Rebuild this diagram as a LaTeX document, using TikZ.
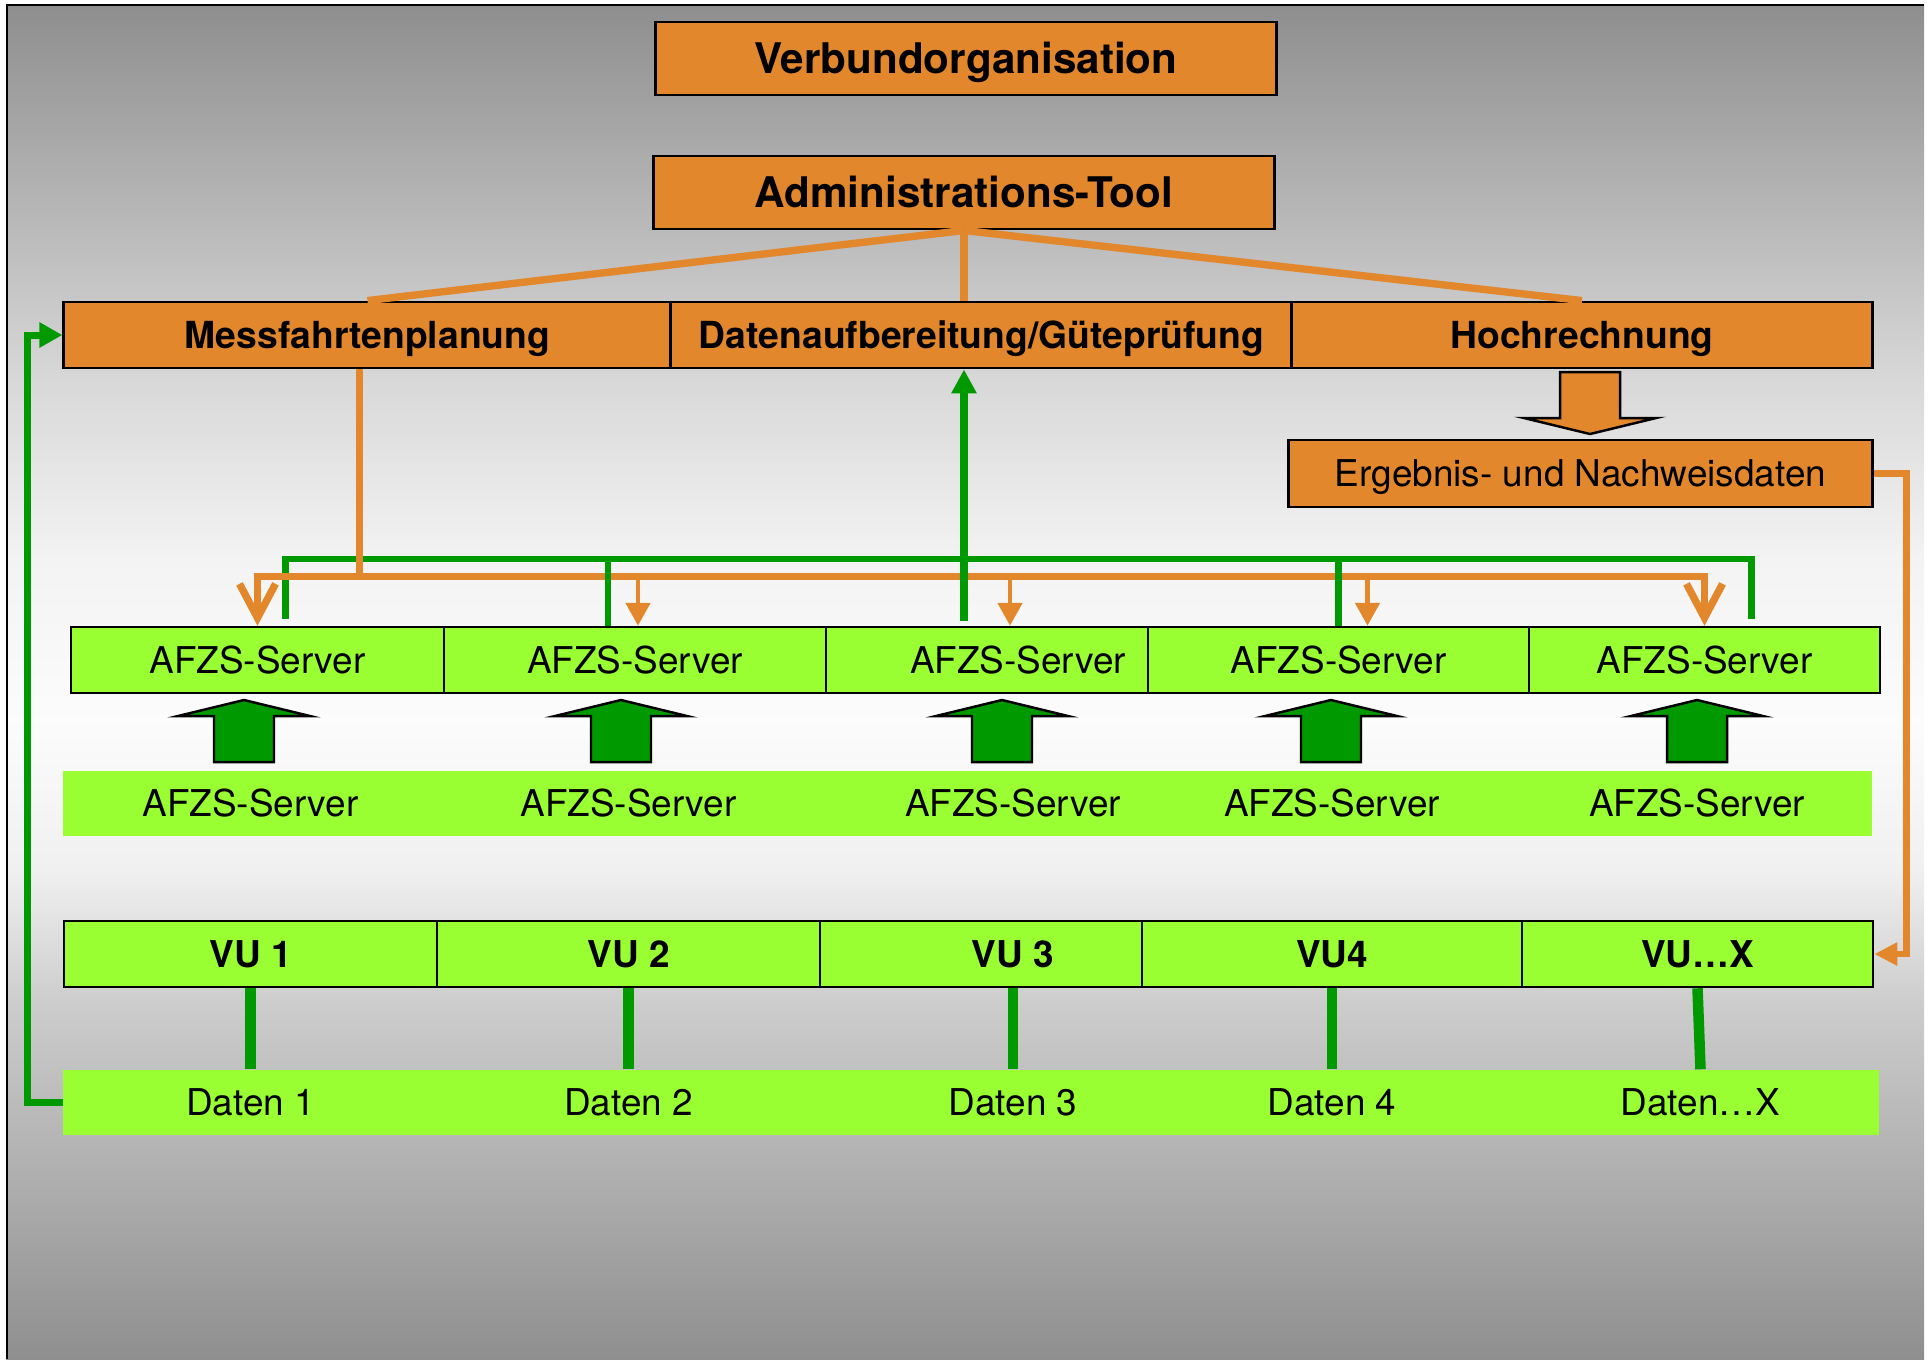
\documentclass[tikz,border=0pt]{standalone}
\usepackage{fontspec}
\setmainfont{TeX Gyre Heros}
\usetikzlibrary{arrows.meta, calc}

\definecolor{orgfill}{RGB}{227,135,45}
\definecolor{lgreen}{RGB}{153,255,51}
\definecolor{dgreen}{RGB}{0,153,0}
\definecolor{bgA}{gray}{0.557}
\definecolor{bgB}{gray}{0.847}
\definecolor{bgC}{gray}{0.953}
\definecolor{bgD}{gray}{0.988}
\definecolor{bgE}{gray}{0.941}
\definecolor{bgF}{gray}{0.804}
\definecolor{bgG}{gray}{0.561}

\tikzset{
  topbox/.style={draw=black, line width=0.8pt, fill=orgfill, inner sep=0pt,
    minimum width=6.2cm, minimum height=0.73cm, text height=8.6pt, text depth=0pt,
    font=\fontsize{12}{14}\selectfont\bfseries},
  rowbox/.style={draw=black, line width=0.8pt, fill=orgfill, inner sep=0pt,
    minimum height=0.66cm, text height=7.6pt, text depth=0pt,
    font=\fontsize{10.6}{12}\selectfont\bfseries},
  srvbox/.style={draw=black, line width=0.7pt, fill=lgreen, inner sep=0pt,
    minimum height=0.66cm, text height=7.5pt, text depth=0pt,
    font=\fontsize{10.5}{12}\selectfont},
  vubox/.style={srvbox, font=\fontsize{10.5}{12}\selectfont\bfseries},
  barbox/.style={fill=lgreen, inner sep=0pt, minimum height=0.65cm,
    text height=7.5pt, text depth=0pt, font=\fontsize{10.5}{12}\selectfont},
  orgline/.style={draw=orgfill, line width=2.1pt},
  orgsmall/.style={draw=orgfill, line width=1.4pt},
  grnline/.style={draw=dgreen, line width=1.8pt},
  vuline/.style={draw=dgreen, line width=3pt},
  fatarrow/.pic={\filldraw[draw=black, line width=0.7pt, pic actions]
    (0,0) -- (66,16) -- (30,16) -- (30,62) -- (-30,62) -- (-30,16) -- (-66,16) -- cycle;}
}

\begin{document}
\begin{tikzpicture}[x=0.01cm, y=-0.01cm]
  \useasboundingbox (0,0) rectangle (1930,1359);

  % Hintergrund
  \shade[top color=bgA, bottom color=bgB] (6,5) rectangle (1924,381);
  \shade[top color=bgB, bottom color=bgC] (6,380) rectangle (1924,561);
  \shade[top color=bgC, bottom color=bgD] (6,560) rectangle (1924,721);
  \shade[top color=bgD, bottom color=bgE] (6,720) rectangle (1924,871);
  \shade[top color=bgE, bottom color=bgF] (6,870) rectangle (1924,1001);
  \shade[top color=bgF, bottom color=bgG] (6,1000) rectangle (1924,1359);
  \draw[line width=0.8pt] (7,1359) -- (7,5) -- (1924,5);

  % Verbund und Administration
  \node[topbox] (verbund) at (966,58.5) {Verbundorganisation};
  \node[topbox] (admin) at (964,192.5) {Administrations-Tool};

  % Aufgabenebene
  \node[rowbox, minimum width=6.07cm] (mess) at (367.5,335) {Messfahrtenplanung};
  \node[rowbox, minimum width=6.21cm] (aufb) at (981.5,335) {Datenaufbereitung/Güteprüfung};
  \node[rowbox, minimum width=5.80cm] (hoch) at (1582,335) {Hochrechnung};
  \node[rowbox, font=\fontsize{10.5}{12}\selectfont, minimum width=5.83cm,
    minimum height=0.67cm] (erg) at (1580.5,473.5) {Ergebnis- und Nachweisdaten};

  % AFZS-Server oben
  \node[srvbox, minimum width=3.73cm] (srv1) at (257.5,660) {AFZS-Server};
  \node[srvbox, minimum width=3.82cm] (srv2) at (635,660) {AFZS-Server};
  \node[srvbox, minimum width=3.84cm] (srv3) at (1018,660) {AFZS-Server};
  \node[srvbox, minimum width=3.81cm] (srv4) at (1338.5,660) {AFZS-Server};
  \node[srvbox, minimum width=3.51cm] (srv5) at (1704.5,660) {AFZS-Server};

  % AFZS-Server unten
  \node[barbox, minimum width=3.74cm] (lsrv1) at (250.5,803) {AFZS-Server};
  \node[barbox, minimum width=3.84cm] (lsrv2) at (628.5,803) {AFZS-Server};
  \node[barbox, minimum width=3.86cm] (lsrv3) at (1013,803) {AFZS-Server};
  \node[barbox, minimum width=3.80cm] (lsrv4) at (1332,803) {AFZS-Server};
  \node[barbox, minimum width=3.50cm] (lsrv5) at (1697,803) {AFZS-Server};

  % Verkehrsunternehmen
  \node[vubox, minimum width=3.73cm] (vu1) at (250.5,954) {VU 1};
  \node[vubox, minimum width=3.83cm] (vu2) at (628.5,954) {VU 2};
  \node[vubox, minimum width=3.86cm] (vu3) at (1013,954) {VU 3};
  \node[vubox, minimum width=3.80cm] (vu4) at (1332,954) {VU4};
  \node[vubox, minimum width=3.51cm] (vu5) at (1697.5,954) {VU…X};

  % Daten
  \node[barbox, minimum width=3.74cm] (dat1) at (250.5,1102.5) {Daten 1};
  \node[barbox, minimum width=3.84cm] (dat2) at (628.5,1102.5) {Daten 2};
  \node[barbox, minimum width=3.86cm] (dat3) at (1013,1102.5) {Daten 3};
  \node[barbox, minimum width=3.80cm] (dat4) at (1332,1102.5) {Daten 4};
  \node[barbox, minimum width=3.57cm] (dat5) at (1700.5,1102.5) {Daten…X};

  % Admin-Tool zu den Aufgaben
  \draw[orgline] (admin.south) -- (mess.north);
  \draw[orgline] (admin.south) -- (admin.south |- aufb.north);
  \draw[orgline] (admin.south) -- (hoch.north);

  % Hochrechnung -> Ergebnis
  \pic[fill=orgfill, rotate=180] at (1590,434) {fatarrow};

  % gruener Sammelstrang
  \draw[grnline] ($(srv1.north)+(28,-7)$) |- ($(srv5.north)+(47,-67)$) -- ($(srv5.north)+(47,-7)$);

  % Messfahrtenplanung an die Server
  \draw[orgline] ($(mess.south)+(-8,0)$) -- ++(0,210);
  \draw[orgline, {Straight Barb[length=3.4mm,width=3.6mm]}-{Straight Barb[length=3.4mm,width=3.6mm]}]
    (srv1.north) -- ++(0,-49) -| (srv5.north);
  \draw[orgsmall, -{Triangle[length=2.3mm,width=2.4mm]}] ($(srv2.north)+(3,-49)$) -- ($(srv2.north)+(3,0)$);
  \draw[orgsmall, -{Triangle[length=2.3mm,width=2.4mm]}] ($(srv3.north)+(-8,-49)$) -- ($(srv3.north)+(-8,0)$);
  \draw[orgsmall, -{Triangle[length=2.3mm,width=2.4mm]}] ($(srv4.north)+(29,-49)$) -- ($(srv4.north)+(29,0)$);

  % Server an die Datenaufbereitung
  \draw[grnline] ($(srv2.north)+(-27,0)$) -- ++(0,-67);
  \draw[grnline] (srv4.north) -- ++(0,-67);
  \draw[grnline, line width=2.2pt, -{Triangle[length=2.4mm,width=2.4mm]}]
    ($(srv3.north)+(-54,-5)$) -- (admin.south |- aufb.south);

  % Blockpfeile
  \pic[fill=dgreen] at (244,700) {fatarrow};
  \pic[fill=dgreen] at (621,700) {fatarrow};
  \pic[fill=dgreen] at (1002,700) {fatarrow};
  \pic[fill=dgreen] at (1331,700) {fatarrow};
  \pic[fill=dgreen] at (1697,700) {fatarrow};

  % VU -> Daten
  \draw[vuline] (vu1.south) -- (dat1.north);
  \draw[vuline] (vu2.south) -- (dat2.north);
  \draw[vuline] (vu3.south) -- (dat3.north);
  \draw[vuline] (vu4.south) -- (dat4.north);
  \draw[vuline] (vu5.south) -- (dat5.north);

  % Rueckkopplungen
  \draw[grnline, line width=2pt, -{Triangle[length=2.3mm,width=2.4mm]}] (dat1.west) -- ++(-35,0) |- (mess.west);
  \draw[orgline, line width=1.8pt, -{Triangle[length=2.3mm,width=2.2mm]}] (erg.east) -- ++(33,0) |- (vu5.east);
\end{tikzpicture}
\end{document}
